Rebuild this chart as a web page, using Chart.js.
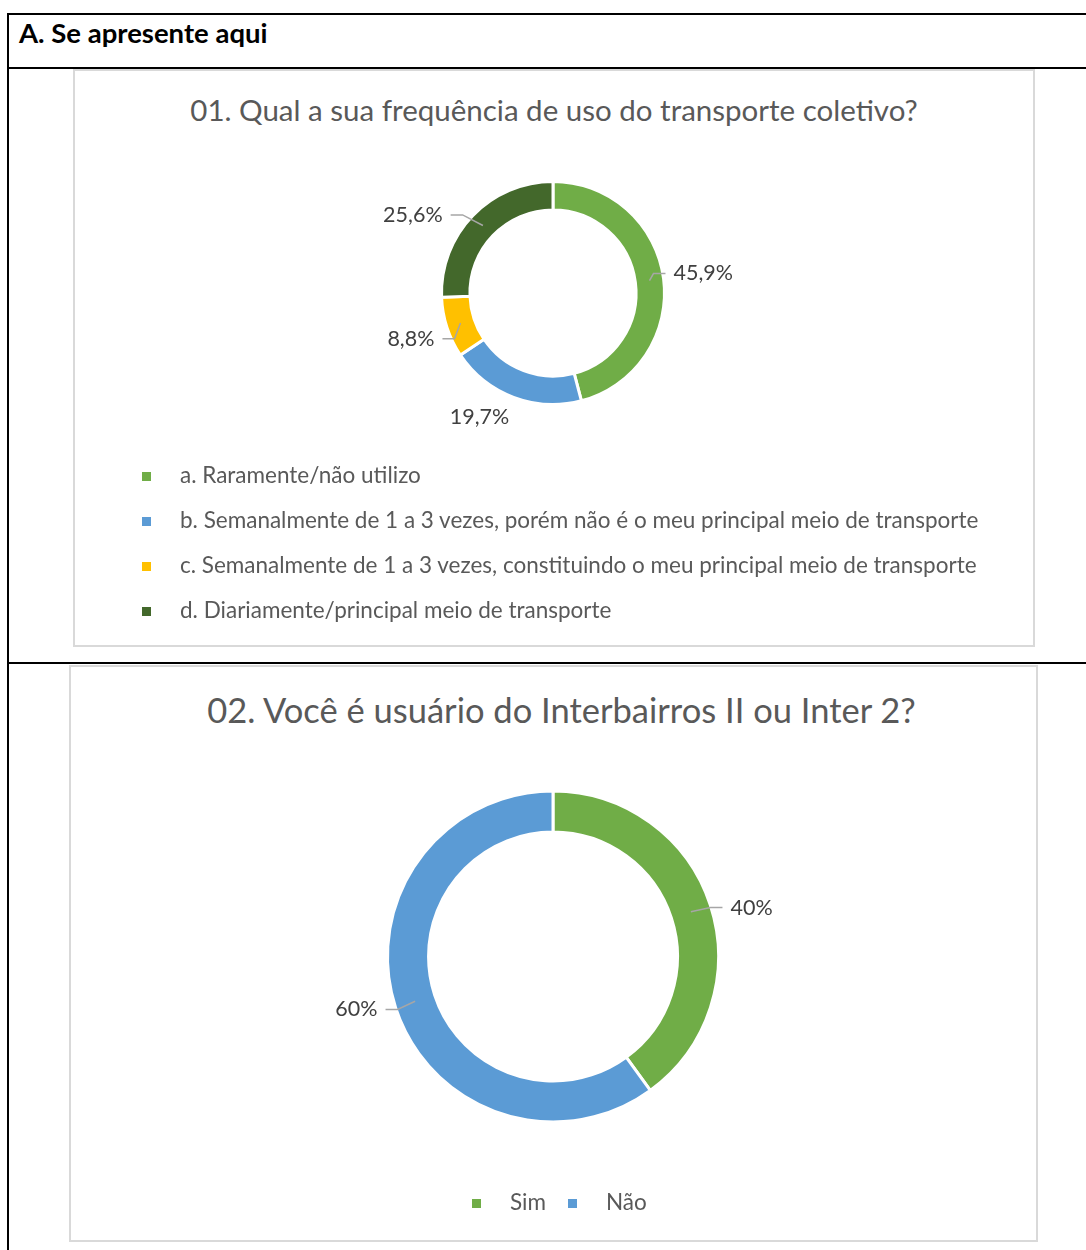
<!DOCTYPE html>
<html><head><meta charset="utf-8">
<script src="https://cdn.jsdelivr.net/npm/chart.js@4.4.1/dist/chart.umd.min.js"></script>
<style>
body{margin:0;background:#fff;}
#page{position:relative;width:1086px;height:1250px;overflow:hidden;background:#fff;font-family:Lato,"Open Sans",sans-serif;}
.line{position:absolute;background:#000;}
.box{position:absolute;border:2px solid #d9d9d9;box-sizing:border-box;}
.txt{position:absolute;white-space:nowrap;}
.title{color:#595959;text-align:center;}
.leg{color:#595959;}
.sw{position:absolute;width:9px;height:9px;}
canvas{position:absolute;}
</style></head><body>
<div id="page">
  <div class="line" style="left:7px;top:13px;width:2px;height:1237px"></div>
  <div class="line" style="left:7px;top:13px;width:1079px;height:2px"></div>
  <div class="line" style="left:7px;top:67px;width:1079px;height:2px"></div>
  <div class="line" style="left:7px;top:662px;width:1079px;height:2px"></div>
  <div class="txt" id="header" style="left:19px;top:13px;height:40px;line-height:40px;font-weight:bold;font-size:27.5px;color:#000"></div>

  <div class="box" style="left:73px;top:69px;width:962px;height:578px"></div>
  <div class="txt title" id="t1" style="left:73px;width:962px;top:89px;height:42px;line-height:42px;font-size:29.5px"></div>
  <canvas id="c1" width="962" height="578" style="left:73px;top:69px;width:962px;height:578px"></canvas>
  <div id="leg1"></div>

  <div class="box" style="left:69px;top:665px;width:969px;height:577px"></div>
  <div class="txt title" id="t2" style="left:77px;width:969px;top:687px;height:46px;line-height:46px;font-size:34.5px"></div>
  <canvas id="c2" width="969" height="577" style="left:69px;top:665px;width:969px;height:577px"></canvas>
  <div id="leg2"></div>
</div>
<script>
// ---- data ----
const headerText = "A. Se apresente aqui";
const q1Title = "01. Qual a sua frequência de uso do transporte coletivo?";
const q1Categories = [
  "a. Raramente/não utilizo",
  "b. Semanalmente de 1 a 3 vezes, porém não é o meu principal meio de transporte",
  "c. Semanalmente de 1 a 3 vezes, constituindo o meu principal meio de transporte",
  "d. Diariamente/principal meio de transporte"
];
const q1Values = [45.9, 19.7, 8.8, 25.6];

const q2Title = "02. Você é usuário do Interbairros II ou Inter 2?";
const q2Categories = ["Sim", "Não"];
const q2Values = [40, 60];

// ---- styles ----
const q1Colors = ["#70AD47", "#5B9BD5", "#FFC000", "#43682B"];
const q2Colors = ["#70AD47", "#5B9BD5"];
const fontFam = "Lato, 'Open Sans', sans-serif";

document.getElementById('header').textContent = headerText;
document.getElementById('t1').textContent = q1Title;
document.getElementById('t2').textContent = q2Title;

function fmtPct(v){ return String(v).replace('.', ',') + '%'; }

// HTML legends
(function(){
  const page = document.getElementById('page');
  q1Categories.forEach((c,i)=>{
    const y = 476 + i*45;
    const sw = document.createElement('div'); sw.className='sw';
    sw.style.left='142px'; sw.style.top=(y-4.5)+'px'; sw.style.background=q1Colors[i];
    page.appendChild(sw);
    const t = document.createElement('div'); t.className='txt leg';
    t.style.left='180px'; t.style.top=(y-16)+'px'; t.style.height='30px'; t.style.lineHeight='30px'; t.style.fontSize='22.5px';
    t.textContent = c; page.appendChild(t);
  });
  const xs = [[472,510],[568,606]];
  q2Categories.forEach((c,i)=>{
    const y = 1203;
    const sw = document.createElement('div'); sw.className='sw';
    sw.style.left=xs[i][0]+'px'; sw.style.top=(y-4.5)+'px'; sw.style.background=q2Colors[i];
    page.appendChild(sw);
    const t = document.createElement('div'); t.className='txt leg';
    t.style.left=xs[i][1]+'px'; t.style.top=(y-16)+'px'; t.style.height='30px'; t.style.lineHeight='30px'; t.style.fontSize='22.5px';
    t.textContent = c; page.appendChild(t);
  });
})();

const outLabels = {
  id: 'outLabels',
  afterDatasetsDraw(chart, args, opts){
    const ctx = chart.ctx;
    const meta = chart.getDatasetMeta(0);
    const data = chart.data.datasets[0].data;
    ctx.save();
    ctx.font = opts.font;
    ctx.textBaseline = 'middle';
    ctx.textAlign = 'center';
    meta.data.forEach((arc, i) => {
      const p = arc.getProps(['x','y','startAngle','endAngle','outerRadius','innerRadius'], true);
      const a = (p.startAngle + p.endAngle) / 2;
      const txt = fmtPct(data[i]);
      const d = p.outerRadius + opts.distance;
      const nd = opts.nudge[i] || [0,0];
      const lx = p.x + Math.cos(a) * d + nd[0];
      const ly = p.y + Math.sin(a) * d + nd[1];
      const w = ctx.measureText(txt).width;
      ctx.fillStyle = opts.color;
      ctx.fillText(txt, lx, ly);
      if (opts.leaders[i]) {
        const rm = (p.outerRadius + p.innerRadius) / 2;
        const sx = p.x + Math.cos(a) * rm, sy = p.y + Math.sin(a) * rm;
        const side = lx > p.x ? -1 : 1;
        const ex = lx + side * (w / 2 + 8);
        const elx = ex + side * opts.elbow;
        ctx.strokeStyle = '#a6a6a6';
        ctx.lineWidth = 1.5;
        ctx.beginPath();
        ctx.moveTo(sx, sy);
        ctx.lineTo(elx, ly);
        ctx.lineTo(ex, ly);
        ctx.stroke();
      }
    });
    ctx.restore();
  }
};

function makeDonut(id, cats, vals, colors, geo, labelOpts){
  const bw = 3;
  const S = 2 * geo.r + 2 * bw;
  const left = geo.cx - geo.x0 - S / 2;
  const top = geo.cy - geo.y0 - S / 2;
  new Chart(document.getElementById(id), {
    type: 'doughnut',
    data: { labels: cats, datasets: [{ data: vals, backgroundColor: colors, borderColor: '#ffffff', borderWidth: bw, hoverBorderWidth: bw, hoverOffset: 0 }] },
    options: {
      responsive: false, animation: false, events: [],
      cutout: geo.cutout,
      layout: { padding: { left: left, top: top, right: geo.w - left - S, bottom: geo.h - top - S } },
      plugins: { legend: { display: false }, tooltip: { enabled: false }, title: { display: false }, outLabels: labelOpts }
    },
    plugins: [outLabels]
  });
}

makeDonut('c1', q1Categories, q1Values, q1Colors,
  { x0: 73, y0: 69, w: 962, h: 578, cx: 553, cy: 293, r: 110, cutout: '74.5%' },
  { font: "21.5px " + fontFam, color: '#404040', distance: 40, elbow: 12,
    nudge: [[0,0],[-20,-18],[2,-1],[-31,27]], leaders: [true,false,true,true] });

makeDonut('c2', q2Categories, q2Values, q2Colors,
  { x0: 69, y0: 665, w: 969, h: 577, cx: 553, cy: 956.5, r: 164, cutout: '75.2%' },
  { font: "21.5px " + fontFam, color: '#404040', distance: 38, elbow: 12,
    nudge: [[5,14],[-3,-10]], leaders: [true,true] });
</script>
</body></html>
